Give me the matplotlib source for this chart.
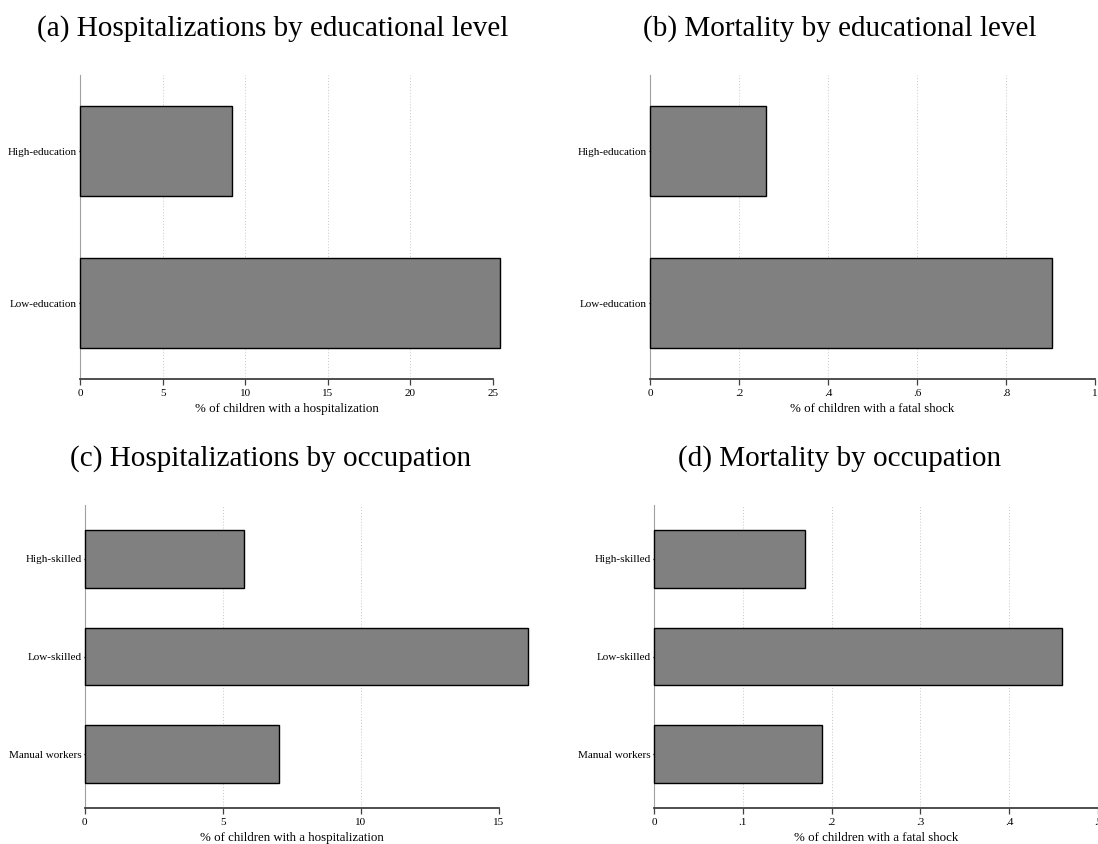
import matplotlib
matplotlib.use("Agg")
import matplotlib.pyplot as plt

plt.rcParams['font.family'] = ['Liberation Serif', 'DejaVu Serif']

# Data
edu_groups = ["High-education", "Low-education"]
edu_hosp = [9.21, 25.40]
edu_mort = [0.261, 0.903]

occ_groups = ["High-skilled", "Low-skilled", "Manual workers"]
occ_hosp = [5.79, 16.04, 7.05]
occ_mort = [0.170, 0.460, 0.189]

hosp_ticks_a = [0, 5, 10, 15, 20, 25]
mort_ticks_b = [0, 0.2, 0.4, 0.6, 0.8, 1.0]
mort_labels_b = ["0", ".2", ".4", ".6", ".8", "1"]
hosp_ticks_c = [0, 5, 10, 15]
mort_ticks_d = [0, 0.1, 0.2, 0.3, 0.4, 0.5]
mort_labels_d = ["0", ".1", ".2", ".3", ".4", ".5"]

W, H = 1098, 844
fig = plt.figure(figsize=(W / 100, H / 100), dpi=100)


def axes_px(left, top, right, bottom):
    return fig.add_axes([left / W, 1 - bottom / H, (right - left) / W, (bottom - top) / H])


def draw_panel(ax, groups, values, xticks, xlabels, xlim, xlabel, margin):
    pos = list(range(len(groups)))
    ax.barh(pos, values, height=0.59, color="#808080", edgecolor="black",
            linewidth=1.0, clip_on=False, zorder=3)
    ax.set_xlim(*xlim)
    ax.set_ylim(len(groups) - 1 + margin, -margin)
    ax.set_yticks(pos)
    ax.set_yticklabels(groups, fontsize=8)
    ax.set_xticks(xticks)
    ax.set_xticklabels(xlabels, fontsize=8)
    ax.set_xlabel(xlabel, fontsize=9.3, labelpad=3)
    for x in xticks:
        ax.axvline(x, color="#c8c8c8", linestyle=(0, (1, 2)), linewidth=0.7, zorder=1)
    for s in ["top", "right"]:
        ax.spines[s].set_visible(False)
    ax.spines["left"].set_color("#a0a0a0")
    ax.spines["left"].set_linewidth(0.8)
    ax.spines["bottom"].set_color("#404040")
    ax.spines["bottom"].set_linewidth(1.3)
    ax.tick_params(axis="x", length=4, width=0.9, color="#404040", pad=3.5)
    ax.tick_params(axis="y", length=1.0, width=1, color="black", pad=1.2)


ax_a = axes_px(80, 75, 493, 379)
draw_panel(ax_a, edu_groups, edu_hosp, hosp_ticks_a, [str(t) for t in hosp_ticks_a],
           (0, 25), "% of children with a hospitalization", 0.5)

ax_b = axes_px(650, 75, 1095, 379)
draw_panel(ax_b, edu_groups, edu_mort, mort_ticks_b, mort_labels_b,
           (0, 1), "% of children with a fatal shock", 0.5)

ax_c = axes_px(84.5, 505, 499, 808)
draw_panel(ax_c, occ_groups, occ_hosp, hosp_ticks_c, [str(t) for t in hosp_ticks_c],
           (0, 15), "% of children with a hospitalization", 0.55)

ax_d = axes_px(654, 505, 1098, 808)
draw_panel(ax_d, occ_groups, occ_mort, mort_ticks_d, mort_labels_d,
           (0, 0.5), "% of children with a fatal shock", 0.55)

title_kw = dict(fontsize=21, ha="center", va="baseline")
fig.text(273 / W, 1 - 36 / H, "(a) Hospitalizations by educational level", **title_kw)
fig.text(840 / W, 1 - 36 / H, "(b) Mortality by educational level", **title_kw)
fig.text(271 / W, 1 - 466 / H, "(c) Hospitalizations by occupation", **title_kw)
fig.text(840 / W, 1 - 466 / H, "(d) Mortality by occupation", **title_kw)

fig.savefig("out.png", dpi=100, facecolor="white")
